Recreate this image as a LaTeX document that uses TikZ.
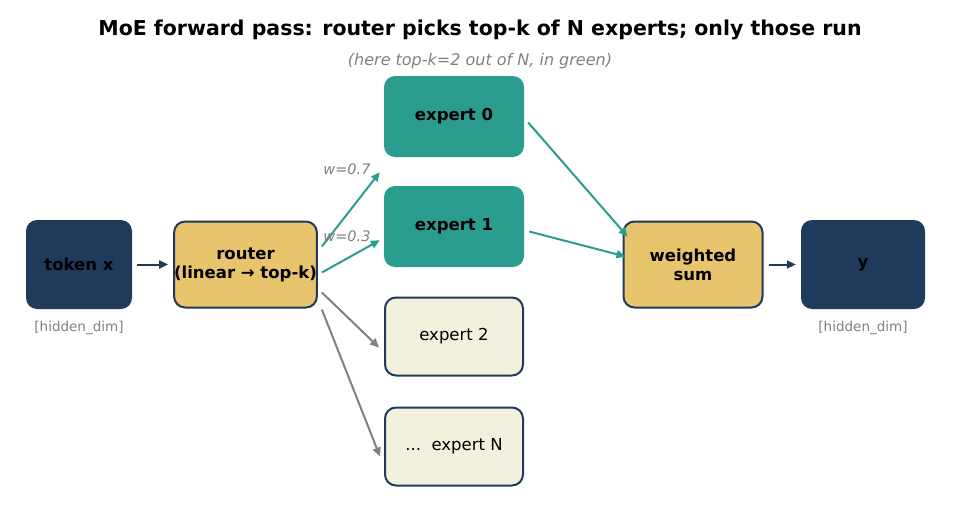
\documentclass[tikz,border=0pt]{standalone}
\usepackage{fontspec}
\setmainfont{DejaVu Sans}
\usetikzlibrary{arrows.meta}
\definecolor{navy}{HTML}{1F3A5A}
\definecolor{gold}{HTML}{E8C46C}
\definecolor{teal2}{HTML}{2A9D8F}
\definecolor{cream}{HTML}{F3F0DE}
\definecolor{gr}{HTML}{808080}
\begin{document}
\begin{tikzpicture}[x=1pt,y=-1pt,
 box/.style={rounded corners=11pt,align=center,font=\fontsize{16.5}{19}\selectfont,inner sep=0pt},
 dark/.style={box,fill=navy,font=\fontsize{16.5}{19}\selectfont\bfseries},
 gold/.style={box,fill=gold,draw=navy,line width=2pt,font=\fontsize{16.5}{19}\selectfont\bfseries},
 act/.style={box,fill=teal2,font=\fontsize{16.5}{19}\selectfont\bfseries},
 idle/.style={box,fill=cream,draw=navy,line width=2pt},
 arr/.style={-{Stealth[length=9pt,width=8pt,inset=0pt]},line width=2pt},
 note/.style={text=gr,font=\fontsize{13.5}{16}\selectfont}]
\useasboundingbox (0,0) rectangle (959,530);
\node[font=\fontsize{20.5}{24}\selectfont\bfseries] (t) at (480,30) {MoE forward pass: router picks top-k of N experts; only those run};
\node[note,font=\fontsize{16}{19}\selectfont\itshape] (st) at (480,61) {(here top-k=2 out of N, in green)};
\node[dark,minimum width=106pt,minimum height=89pt] (x) at (79,264.5) {token x};
\node[gold,minimum width=130pt,minimum height=86pt] (r) at (245.5,264.5) {router\\(linear → top-k)};
\node[act,minimum width=140pt,minimum height=81pt] (e0) at (454,116.5) {expert 0};
\node[act,minimum width=140pt,minimum height=81pt] (e1) at (454,226.5) {expert 1};
\node[idle,minimum width=138pt,minimum height=78pt] (e2) at (454,336.5) {expert 2};
\node[idle,minimum width=138pt,minimum height=78pt] (eN) at (454,446.5) {...\ \ expert N};
\node[gold,minimum width=139pt,minimum height=86pt] (w) at (693,264.5) {weighted\\sum};
\node[dark,minimum width=124pt,minimum height=89pt] (y) at (863,264.5) {y};
\node[note] (h1) at (79,328) {[hidden\_dim]};
\node[note] (h2) at (863,328) {[hidden\_dim]};
\draw[arr,navy] ([xshift=5pt]x.east) -- ([xshift=-5pt]r.west);
\draw[arr,teal2] ([shift={(4,-18)}]r.east) -- ([shift={(-4,15)}]e0.south west);
\draw[arr,teal2] ([shift={(4,8)}]r.east) -- ([shift={(-4,-27)}]e1.south west);
\draw[arr,gr] ([shift={(4,28)}]r.east) -- ([shift={(-5,11)}]e2.west);
\draw[arr,gr] ([shift={(4,45)}]r.east) -- ([shift={(-4,10)}]eN.west);
\draw[arr,teal2] ([shift={(4,6)}]e0.east) -- ([shift={(5,16)}]w.north west);
\draw[arr,teal2] ([shift={(5,5)}]e1.east) -- ([shift={(3,-8)}]w.west);
\draw[arr,navy] ([xshift=5pt]w.east) -- ([xshift=-5pt]y.west);
\node[note,font=\fontsize{14.5}{17}\selectfont\itshape] (l1) at (347,169) {w=0.7};
\node[note,font=\fontsize{14.5}{17}\selectfont\itshape] (l2) at (347,236) {w=0.3};
\end{tikzpicture}
\end{document}
